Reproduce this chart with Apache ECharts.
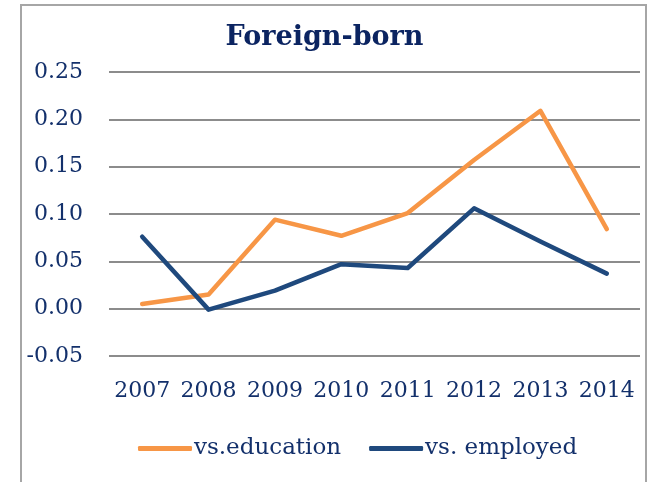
<!DOCTYPE html>
<html>
<head>
<meta charset="utf-8">
<script src="https://cdn.jsdelivr.net/npm/echarts@6/dist/echarts.min.js"></script>
<style>
  html, body { margin: 0; padding: 0; background: #fff; }
  #chart { width: 649px; height: 482px; }
</style>
</head>
<body>
<div id="chart"></div>
<script>
// values
const years = ['2007', '2008', '2009', '2010', '2011', '2012', '2013', '2014'];
const vsEducation = [0.005, 0.015, 0.094, 0.077, 0.101, 0.157, 0.209, 0.084];
const vsEmployed = [0.076, -0.001, 0.019, 0.047, 0.043, 0.106, 0.071, 0.037];
const yTicks = [-0.05, 0.25, 0.05]; // min, max, step

const textColor = '#13306b';
const fontFamily = '"DejaVu Serif", serif';

const chart = echarts.init(document.getElementById('chart'));
chart.setOption({
    animation: false,
    backgroundColor: '#fff',
    textStyle: { fontFamily: fontFamily },
    title: {
        text: 'Foreign-born',
        left: 'center',
        top: 19,
        textStyle: { fontFamily: fontFamily, fontSize: 27, fontWeight: 'bold', color: '#0b2461' }
    },
    graphic: [{
        type: 'rect',
        shape: { x: 21, y: 5, width: 625, height: 500 },
        style: { fill: 'none', stroke: '#a6a6a6', lineWidth: 2 },
        silent: true
    }],
    legend: {
        left: 133,
        top: 432,
        itemWidth: 54,
        itemHeight: 5,
        itemGap: 28,
        icon: 'roundRect',
        textStyle: { fontFamily: fontFamily, fontSize: 23, color: textColor, padding: [0, 0, 0, -3] },
        data: ['vs.education', 'vs. employed']
    },
    grid: { left: 109, right: 9, top: 72, bottom: 126 },
    xAxis: {
        type: 'category',
        data: years,
        boundaryGap: true,
        axisLine: { show: false },
        axisTick: { show: false },
        axisLabel: { interval: 0, fontFamily: fontFamily, fontSize: 22, color: textColor, margin: 24 }
    },
    yAxis: {
        type: 'value',
        min: yTicks[0],
        max: yTicks[1],
        interval: yTicks[2],
        axisLine: { show: false },
        axisTick: { show: false },
        axisLabel: {
            fontFamily: fontFamily, fontSize: 22, color: textColor, margin: 26,
            formatter: function (v) { return v.toFixed(2); }
        },
        splitLine: { lineStyle: { color: '#8c8c8c', width: 2 } }
    },
    series: [{
        name: 'vs.education',
        type: 'line',
        data: vsEducation,
        symbol: 'none',
        lineStyle: { color: '#f79646', width: 4.5, cap: 'round', join: 'round' },
        itemStyle: { color: '#f79646' }
    }, {
        name: 'vs. employed',
        type: 'line',
        data: vsEmployed,
        symbol: 'none',
        lineStyle: { color: '#1f497d', width: 4.5, cap: 'round', join: 'round' },
        itemStyle: { color: '#1f497d' }
    }]
});
</script>
</body>
</html>
